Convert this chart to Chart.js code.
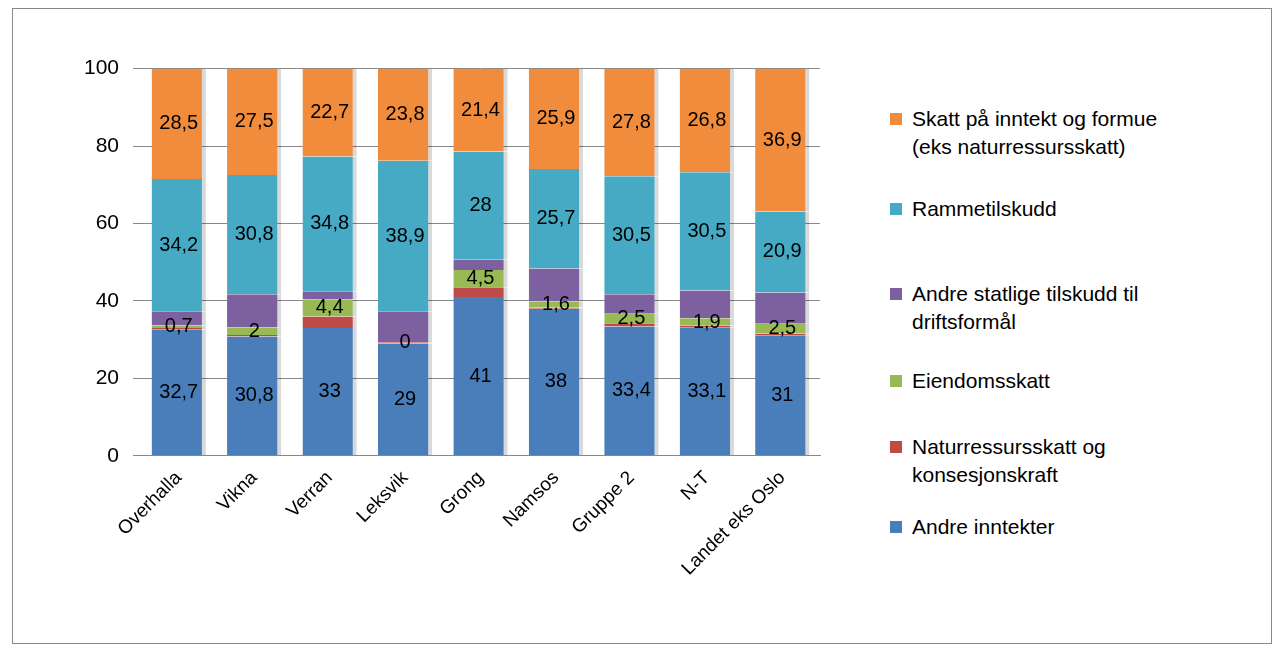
<!DOCTYPE html>
<html><head><meta charset="utf-8">
<script src="https://cdn.jsdelivr.net/npm/chart.js@4.4.1/dist/chart.umd.min.js"></script>
<style>
body{margin:0;background:#fff;font-family:"Liberation Sans",Arial,sans-serif;}
#frame{position:absolute;left:12px;top:8px;width:1258px;height:634px;border:1px solid #888;}
#wrap{position:absolute;left:50px;top:42px;width:780px;height:541px;}
#legend{position:absolute;left:890px;top:105px;font-size:21px;color:#000;}
.li{position:absolute;left:0;width:380px;line-height:28px;}
.sw{position:absolute;left:0;top:8px;width:12px;height:12px;}
.tx{position:absolute;left:22px;white-space:nowrap;}
</style></head><body>
<div id="frame"></div>
<div id="wrap"><canvas id="c"></canvas></div>
<div id="legend"></div>
<script>
const categories = ['Overhalla','Vikna','Verran','Leksvik','Grong','Namsos','Gruppe 2','N-T','Landet eks Oslo'];
const andreInntekter = [32.7,30.8,33,29,41,38,33.4,33.1,31];
const naturressurs = [0.3,0.4,3,0.3,2.5,0.3,0.8,0.5,0.6];
const eiendomsskatt = [0.7,2,4.4,0,4.5,1.6,2.5,1.9,2.5];
const andreStatlige = [3.6,8.5,2.1,8,2.6,8.5,5,7.2,8.1];
const rammetilskudd = [34.2,30.8,34.8,38.9,28,25.7,30.5,30.5,20.9];
const skatt = [28.5,27.5,22.7,23.8,21.4,25.9,27.8,26.8,36.9];
const yTicks = [0,20,40,60,80,100];

const series = [
  {label:'Andre inntekter', data:andreInntekter, color:'#4a7ebb', show:true},
  {label:'Naturressursskatt og\nkonsesjonskraft', data:naturressurs, color:'#be4b48', show:false},
  {label:'Eiendomsskatt', data:eiendomsskatt, color:'#98b954', show:true},
  {label:'Andre statlige  tilskudd til\ndriftsformål', data:andreStatlige, color:'#7d60a0', show:false},
  {label:'Rammetilskudd', data:rammetilskudd, color:'#46aac5', show:true},
  {label:'Skatt på inntekt og formue\n(eks naturressursskatt)', data:skatt, color:'#f08c3c', show:true}
];

const labelPlugin = {
  id:'segLabels',
  afterDatasetsDraw(chart){
    const ctx = chart.ctx;
    ctx.save();
    ctx.font = '20px "Liberation Sans", Arial';
    ctx.fillStyle = '#000';
    ctx.textAlign = 'center';
    ctx.textBaseline = 'middle';
    chart.data.datasets.forEach((ds, i) => {
      if (!series[i].show) return;
      chart.getDatasetMeta(i).data.forEach((bar, j) => {
        const y = (bar.y + bar.base) / 2;
        ctx.fillText(String(ds.data[j]).replace('.', ','), bar.x, y);
      });
    });
    ctx.restore();
  }
};

new Chart(document.getElementById('c'), {
  type:'bar',
  data:{labels:categories, datasets:series.map(s => ({
    label:s.label, data:s.data, backgroundColor:s.color,
    borderColor:'rgba(0,0,0,0.15)', borderWidth:{left:0,right:4,top:0,bottom:0},
    barPercentage:0.72, categoryPercentage:1
  }))},
  options:{
    responsive:true, maintainAspectRatio:false, animation:false,
    layout:{padding:{left:20,right:10,top:12}},
    plugins:{legend:{display:false}, tooltip:{enabled:false}},
    scales:{
      x:{stacked:true, grid:{display:false}, border:{color:'#888'},
        ticks:{color:'#000', font:{size:19, family:'"Liberation Sans", Arial'}, maxRotation:45, minRotation:45}},
      y:{stacked:true, min:0, max:100, afterBuildTicks:a => {a.ticks = yTicks.map(v => ({value:v}));},
        grid:{color:'#888'}, border:{display:false},
        ticks:{color:'#000', padding:14, font:{size:21, family:'"Liberation Sans", Arial'}}}
    }
  },
  plugins:[labelPlugin]
});

const tops = [0,90,175,262,328,408];
const lg = document.getElementById('legend');
series.slice().reverse().forEach((s, i) => {
  const d = document.createElement('div');
  d.className = 'li'; d.style.top = tops[i] + 'px';
  d.innerHTML = '<div class="sw" style="background:' + s.color + '"></div><div class="tx">' +
    s.label.replace('\n', '<br>') + '</div>';
  lg.appendChild(d);
});
</script>
</body></html>
